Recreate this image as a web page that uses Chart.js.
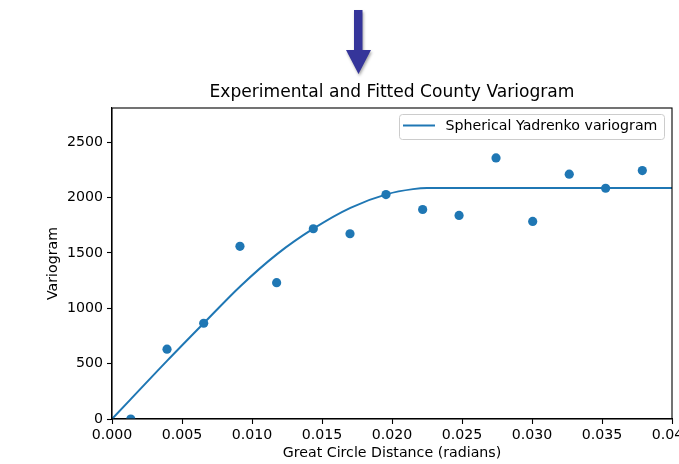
<!DOCTYPE html>
<html>
<head>
<meta charset="utf-8">
<script src="https://cdn.jsdelivr.net/npm/chart.js@4/dist/chart.umd.min.js"></script>
<style>
html,body{margin:0;padding:0;background:#fff;}
#wrap{width:679px;height:464px;position:relative;}
</style>
</head>
<body>
<div id="wrap"><canvas id="c"></canvas></div>
<script>
// Experimental variogram (bin centres, radians) and values
const binDistance = [0.00134, 0.00393, 0.00655, 0.00914, 0.01176, 0.01438, 0.01700, 0.01957, 0.02219, 0.02479, 0.02743, 0.03005, 0.03266, 0.03526, 0.03788];
const binVariogram = [0, 631, 865, 1560, 1232, 1719, 1674, 2028, 1893, 1839, 2359, 1785, 2212, 2085, 2245];
// Fitted spherical model
const fitDistance = [0, 0.00131, 0.00393, 0.00655, 0.00917, 0.01179, 0.01441, 0.01703, 0.01965, 0.0215, 0.0225, 0.030, 0.040];
const fitVariogram = [0, 175, 525, 865, 1200, 1490, 1722, 1908, 2032, 2077, 2087, 2087, 2087];
const xTicks = [0, 0.005, 0.010, 0.015, 0.020, 0.025, 0.030, 0.035, 0.040];
const yTicks = [0, 500, 1000, 1500, 2000, 2500];
const titleText = 'Experimental and Fitted County Variogram';
const xLabel = 'Great Circle Distance (radians)';
const yLabel = 'Variogram';
const legendLabel = 'Spherical Yadrenko variogram';

const FONT = 'DejaVu Sans';
const FS = 14.2;
const BLUE = '#1f77b4';
Chart.defaults.font.family = FONT;
Chart.defaults.font.size = FS;
Chart.defaults.color = '#000';

const deco = {
  id: 'deco',
  afterDraw(chart) {
    const ctx = chart.ctx, a = chart.chartArea;
    ctx.save();
    // spines
    ctx.strokeStyle = '#000';
    ctx.lineWidth = 1.1;
    ctx.strokeRect(a.left, a.top, a.right - a.left, a.bottom - a.top);
    // title
    ctx.fillStyle = '#000';
    ctx.font = '17.1px "' + FONT + '"';
    ctx.textAlign = 'center';
    ctx.textBaseline = 'middle';
    ctx.fillText(titleText, (a.left + a.right) / 2, 93);
    // legend
    const lx = 399.5, ly = 114.5, lw = 265, lh = 25;
    ctx.beginPath();
    ctx.roundRect(lx, ly, lw, lh, 3);
    ctx.fillStyle = 'rgba(255,255,255,0.8)';
    ctx.fill();
    ctx.strokeStyle = '#cccccc';
    ctx.lineWidth = 1;
    ctx.stroke();
    ctx.beginPath();
    ctx.moveTo(403, 125.5);
    ctx.lineTo(435, 125.5);
    ctx.strokeStyle = BLUE;
    ctx.lineWidth = 2;
    ctx.stroke();
    ctx.fillStyle = '#000';
    ctx.font = FS + 'px "' + FONT + '"';
    ctx.textAlign = 'left';
    ctx.textBaseline = 'middle';
    ctx.fillText(legendLabel, 445.5, 126.5);
    // arrow
    ctx.shadowColor = 'rgba(0,0,0,0.35)';
    ctx.shadowBlur = 3;
    ctx.shadowOffsetX = 1;
    ctx.shadowOffsetY = 2;
    ctx.fillStyle = '#35359a';
    ctx.beginPath();
    ctx.moveTo(354, 10);
    ctx.lineTo(362.5, 10);
    ctx.lineTo(362.5, 50);
    ctx.lineTo(371, 50);
    ctx.lineTo(358.5, 74);
    ctx.lineTo(346, 50);
    ctx.lineTo(354, 50);
    ctx.closePath();
    ctx.fill();
    ctx.restore();
  }
};

new Chart(document.getElementById('c'), {
  type: 'scatter',
  data: {
    datasets: [
      {
        label: 'Experimental',
        data: binDistance.map((x, i) => ({x, y: binVariogram[i]})),
        backgroundColor: BLUE,
        borderColor: BLUE,
        borderWidth: 0,
        pointRadius: 4.6,
        pointHoverRadius: 4.6,
        clip: 0,
        order: 0
      },
      {
        type: 'line',
        label: legendLabel,
        data: fitDistance.map((x, i) => ({x, y: fitVariogram[i]})),
        borderColor: BLUE,
        borderWidth: 2,
        pointRadius: 0,
        fill: false,
        cubicInterpolationMode: 'monotone',
        clip: 0,
        order: 1
      }
    ]
  },
  options: {
    responsive: true,
    maintainAspectRatio: false,
    animation: false,
    events: [],
    layout: {padding: {top: 108, right: 7, left: 0, bottom: 0}},
    plugins: {legend: {display: false}, tooltip: {enabled: false}, title: {display: false}},
    scales: {
      x: {
        type: 'linear',
        min: 0, max: 0.04,
        afterBuildTicks: s => { s.ticks = xTicks.map(v => ({value: v})); },
        afterFit: s => { s.height = 45; s.paddingLeft = 0; s.paddingRight = 0; },
        ticks: {padding: 3, maxRotation: 0, autoSkip: false, callback: v => v.toFixed(3), font: {size: FS}},
        grid: {display: true, drawOnChartArea: false, drawTicks: true, tickLength: 5, tickColor: '#000', tickWidth: 1.1},
        border: {display: true, color: '#000', width: 1.1},
        title: {display: true, text: xLabel, padding: {top: 0, bottom: 2}, font: {size: FS}}
      },
      y: {
        type: 'linear',
        min: 0, max: 2810,
        afterBuildTicks: s => { s.ticks = yTicks.map(v => ({value: v})); },
        afterFit: s => { s.width = 112; s.paddingTop = 0; s.paddingBottom = 0; },
        ticks: {padding: 4, autoSkip: false, callback: v => String(v), font: {size: FS}},
        grid: {display: true, drawOnChartArea: false, drawTicks: true, tickLength: 5, tickColor: '#000', tickWidth: 1.1},
        border: {display: true, color: '#000', width: 1.1},
        title: {display: true, text: yLabel, padding: {top: 45, bottom: 0}, font: {size: FS}}
      }
    }
  },
  plugins: [deco]
});
</script>
</body>
</html>
